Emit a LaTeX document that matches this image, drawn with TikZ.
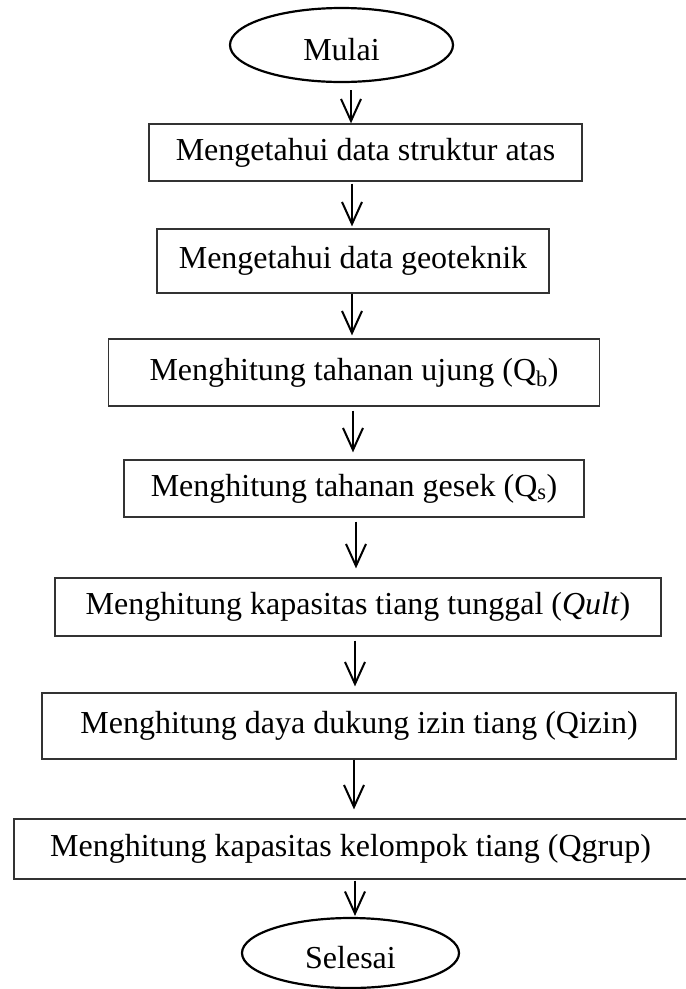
\documentclass[tikz,border=0pt]{standalone}
\usepackage{fontspec}
\setmainfont{Liberation Serif}
\usetikzlibrary{arrows.meta,shapes.geometric}
\tikzset{
  kotak/.style={draw=black!80, line width=1.3pt, rectangle, inner sep=0pt},
  oval/.style={draw=black, line width=2.2pt, ellipse, inner sep=0pt, text height=31pt},
  panah/.style={line width=2pt, -{Straight Barb[length=22pt, width=20pt]}}
}
\begin{document}
\begin{tikzpicture}[x=1pt, y=-1pt, every node/.style={font=\fontsize{32pt}{38pt}\selectfont}]
  \useasboundingbox (0,0) rectangle (686,989);

  % 1. mulai dan selesai
  \node[oval, minimum width=223pt, minimum height=74pt] (mulai) at (341.5, 45) {Mulai};
  \node[oval, minimum width=217pt, minimum height=70pt] (selesai) at (350.5, 953) {Selesai};

  % 2. langkah-langkah
  \node[kotak, minimum width=433pt, minimum height=57pt] (struktur) at (365.5, 152.5) {Mengetahui data struktur atas};
  \node[kotak, minimum width=392pt, minimum height=64pt] (geoteknik) at (353, 261) {Mengetahui data geoteknik};
  \node[kotak, minimum width=491pt, minimum height=67pt] (qb) at (354, 372.5) {Menghitung tahanan ujung (Q\textsubscript{b})};
  \node[kotak, minimum width=460pt, minimum height=57pt] (qs) at (354, 488.5) {Menghitung tahanan gesek (Q\textsubscript{s})};
  \node[kotak, minimum width=606pt, minimum height=58pt] (qult) at (358, 607) {Menghitung kapasitas tiang tunggal (\textit{Qult})};
  \node[kotak, minimum width=634pt, minimum height=66pt] (qizin) at (359, 726) {Menghitung daya dukung izin tiang (Qizin)};
  \node[kotak, minimum width=673pt, minimum height=60pt] (qgrup) at (350.5, 849) {Menghitung kapasitas kelompok tiang (Qgrup)};

  % 3. panah
  \draw[panah, shorten <=7pt] (mulai.south -| 351,0) -- (struktur.north -| 351,0);
  \draw[panah, shorten <=2pt, shorten >=2pt] (struktur.south -| 352,0) -- (geoteknik.north -| 352,0);
  \draw[panah, shorten >=3pt] (geoteknik.south -| 352,0) -- (qb.north -| 352,0);
  \draw[panah, shorten <=4pt, shorten >=7pt] (qb.south -| 353,0) -- (qs.north -| 353,0);
  \draw[panah, shorten <=4pt, shorten >=9pt] (qs.south -| 356,0) -- (qult.north -| 356,0);
  \draw[panah, shorten <=4pt, shorten >=6pt] (qult.south -| 355,0) -- (qizin.north -| 355,0);
  \draw[panah, shorten >=9pt] (qizin.south -| 354,0) -- (qgrup.north -| 354,0);
  \draw[panah, shorten <=1pt, shorten >=1pt] (qgrup.south -| 355,0) -- (selesai.north -| 355,0);
\end{tikzpicture}
\end{document}
